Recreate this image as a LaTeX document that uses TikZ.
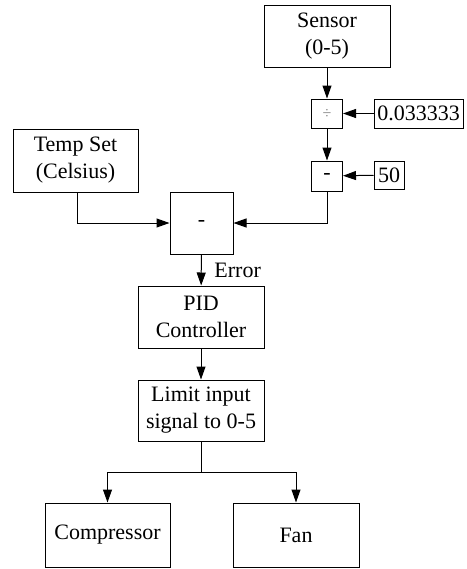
\documentclass[tikz,border=0pt]{standalone}
\usepackage{fontspec}
\setmainfont{Liberation Serif}
\usepackage{tikz}
\usetikzlibrary{arrows.meta, positioning, calc}

\tikzset{
  blk/.style={draw, line width=0.5pt, inner sep=0pt, align=center,
    font=\fontsize{11}{13.5}\selectfont},
  arr/.style={line width=0.5pt, -{Triangle[length=6.5pt, width=4.5pt]}},
  wire/.style={line width=0.5pt},
}

\begin{document}
\begin{tikzpicture}[x=0.5pt, y=-0.5pt]
  \useasboundingbox (0,0) rectangle (467,569);

  % -- sensor chain --
  \node[blk, minimum width=63pt, minimum height=31pt] (sensor) at (327,36) {Sensor\\(0-5)};
  \node[blk, minimum width=15.5pt, minimum height=14.5pt] (div) at (327,113.5)
    {\fontsize{8}{8}\selectfont\color{gray}÷};
  \node[blk, minimum width=44.5pt, minimum height=14.5pt] (gain) at (418.5,113.5) {0.033333};
  \node[blk, minimum width=15.5pt, minimum height=15pt] (off) at (327,176) {-};
  \node[blk, minimum width=15pt, minimum height=14pt] (fifty) at (389,175) {50};

  % -- set point and error --
  \node[blk, minimum width=62.5pt, minimum height=31.5pt] (tset) at (75.5,160.5) {Temp Set\\(Celsius)};
  \node[blk, minimum width=31.5pt, minimum height=31pt] (sum) at (201.5,223) {-};

  % -- controller and outputs --
  \node[blk, minimum width=63pt, minimum height=31pt] (pid) at (201,317) {PID\\Controller};
  \node[blk, minimum width=63pt, minimum height=30.5pt] (limit) at (201,410.5) {Limit input\\signal to 0-5};
  \node[blk, minimum width=62.5pt, minimum height=32pt] (comp) at (107.5,535) {Compressor};
  \node[blk, minimum width=63pt, minimum height=32pt] (fan) at (296,535) {Fan};
  \coordinate (split) at (201,472);

  % -- connectors --
  \draw[arr] (sensor) -- (div);
  \draw[arr] (gain) -- (div);
  \draw[arr] (div) -- (off);
  \draw[arr] (fifty) -- (off);
  \draw[arr] (off.south) |- (sum.east);
  \draw[arr] ($(tset.south)+(1.5,0)$) |- (sum.west);
  \draw[arr] (sum) -- node[right, xshift=3pt, font=\fontsize{11}{13.5}\selectfont] (err) {Error} (pid);
  \draw[arr] (pid) -- (limit);
  \draw[wire] (limit.south) -- (split);
  \draw[arr] (split) -| (comp.north);
  \draw[arr] (split) -| (fan.north);
\end{tikzpicture}
\end{document}
